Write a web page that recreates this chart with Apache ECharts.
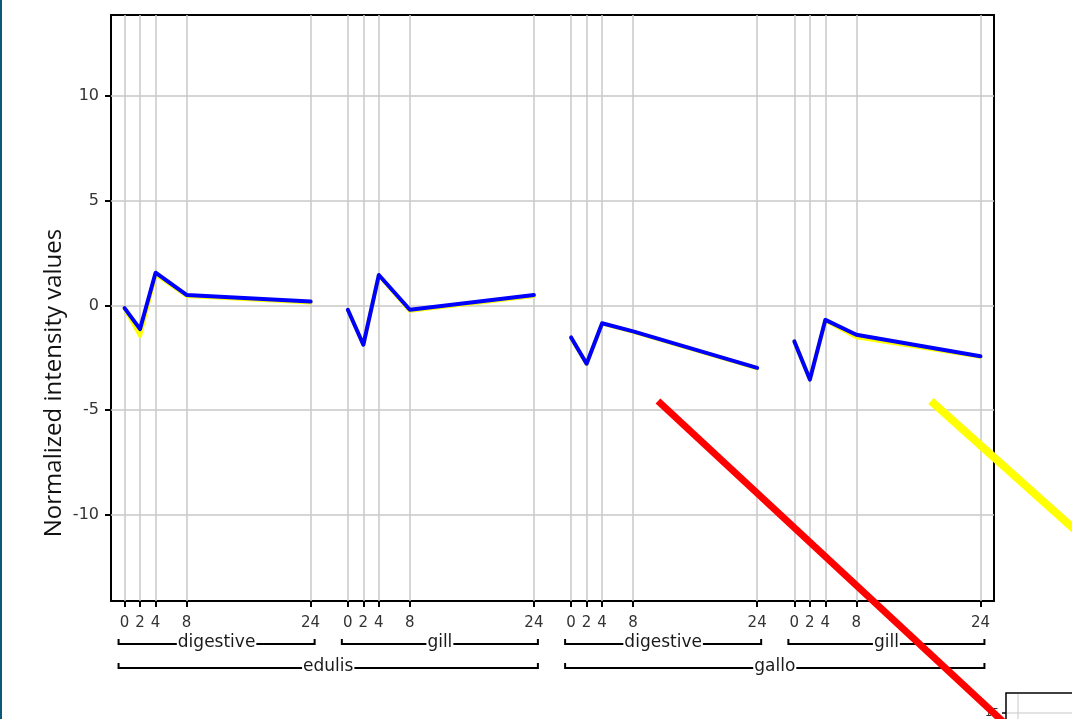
<!DOCTYPE html>
<html>
<head>
<meta charset="utf-8">
<script src="https://cdn.jsdelivr.net/npm/echarts@6/dist/echarts.min.js"></script>
<style>
  html, body { margin: 0; padding: 0; background: #fff; }
  #chart { width: 1072px; height: 719px; }
</style>
</head>
<body>
<div id="chart"></div>
<script>
// Sampling times (hours) within each tissue block
const hours = [0, 2, 4, 8, 24];
const tissueNames = ['digestive', 'gill', 'digestive', 'gill'];
const speciesNames = ['edulis', 'gallo'];

// Normalized intensity values, one array per species/tissue block
const blueEdulisDigestive = [-0.13, -1.13, 1.56, 0.50, 0.18];
const blueEdulisGill = [-0.21, -1.88, 1.45, -0.21, 0.50];
const blueGalloDigestive = [-1.53, -2.78, -0.85, -1.24, -2.98];
const blueGalloGill = [-1.72, -3.54, -0.69, -1.40, -2.43];

const yellowEdulisDigestive = [-0.15, -1.45, 1.48, 0.45, 0.14];
const yellowEdulisGill = [-0.21, -1.88, 1.43, -0.26, 0.45];
const yellowGalloDigestive = [-1.55, -2.80, -0.87, -1.26, -3.00];
const yellowGalloGill = [-1.72, -3.54, -0.72, -1.52, -2.45];

const yTickValues = [-10, -5, 0, 5, 10];

// Each block takes 24 h of axis plus a gap before the next block
const GROUP_SPAN = 28.8;

const blueBlocks = [blueEdulisDigestive, blueEdulisGill, blueGalloDigestive, blueGalloGill];
const yellowBlocks = [yellowEdulisDigestive, yellowEdulisGill, yellowGalloDigestive, yellowGalloGill];

const xTickValues = [];
const xTickText = {};
blueBlocks.forEach((_, g) => {
  hours.forEach(h => {
    const v = +(g * GROUP_SPAN + h).toFixed(4);
    xTickValues.push(v);
    xTickText[v.toFixed(4)] = String(h);
  });
});

const chart = echarts.init(document.getElementById('chart'), null, { renderer: 'canvas' });

const labelFont = '"DejaVu Sans", sans-serif';
const gridColor = '#c8c8c8';

const series = [];
// reference grid lines
series.push({
  type: 'line',
  data: [],
  silent: true,
  markLine: {
    silent: true,
    z: 1,
    animation: false,
    symbol: ['none', 'none'],
    label: { show: false },
    lineStyle: { color: gridColor, width: 1.5, type: 'solid' },
    data: xTickValues.map(v => ({ xAxis: v })).concat(yTickValues.map(v => ({ yAxis: v })))
  }
});

function blockSeries(values, g, color, z) {
  return {
    type: 'line',
    data: values.map((y, i) => [g * GROUP_SPAN + hours[i], y]),
    symbol: 'none',
    z: z,
    animation: false,
    silent: true,
    lineStyle: { color: color, width: 4, cap: 'round', join: 'round' }
  };
}
yellowBlocks.forEach((vals, g) => series.push(blockSeries(vals, g, '#ffff00', 10)));
blueBlocks.forEach((vals, g) => series.push(blockSeries(vals, g, '#0000ff', 11)));

chart.setOption({
  animation: false,
  backgroundColor: '#ffffff',
  grid: {
    left: 111, top: 15, width: 883, height: 586,
    show: true, borderColor: '#000', borderWidth: 2, backgroundColor: 'transparent'
  },
  xAxis: {
    type: 'value',
    min: -1.75,
    max: 112.15,
    axisLine: { show: true, onZero: false, lineStyle: { color: '#000', width: 2 } },
    splitLine: { show: false },
    axisTick: {
      show: true, inside: false, length: 6, customValues: xTickValues,
      lineStyle: { color: '#000', width: 2 }
    },
    axisLabel: {
      show: true, customValues: xTickValues, margin: 15,
      color: '#333', fontFamily: labelFont, fontSize: 15,
      formatter: v => xTickText[(+v).toFixed(4)] || ''
    }
  },
  yAxis: {
    type: 'value',
    min: -14.1,
    max: 13.85,
    axisLine: { show: true, onZero: false, lineStyle: { color: '#000', width: 2 } },
    splitLine: { show: false },
    axisTick: {
      show: true, inside: false, length: 6, customValues: yTickValues,
      lineStyle: { color: '#000', width: 2 }
    },
    axisLabel: {
      show: true, customValues: yTickValues, margin: 12,
      color: '#333', fontFamily: labelFont, fontSize: 16
    }
  },
  series: series
});

// Bracket annotations under the time axis (tissue row, then species row)
const px = v => chart.convertToPixel({ xAxisIndex: 0 }, v);
const graphics = [];

function bracket(x0, x1, y, text) {
  graphics.push({
    type: 'polyline',
    silent: true,
    z: 20,
    shape: { points: [[x0, y - 5], [x0, y], [x1, y], [x1, y - 5]] },
    style: { stroke: '#000', lineWidth: 2, fill: null }
  });
  graphics.push({
    type: 'text',
    silent: true,
    z: 21,
    style: {
      text: text, x: (x0 + x1) / 2, y: y - 1,
      align: 'center', verticalAlign: 'middle',
      font: '17px ' + labelFont, fill: '#1a1a1a',
      backgroundColor: '#fff', padding: [0, 1]
    }
  });
}

tissueNames.forEach((name, g) => {
  bracket(px(g * GROUP_SPAN) - 6, px(g * GROUP_SPAN + 24) + 4, 644, name);
});
speciesNames.forEach((name, s) => {
  const start = 2 * s * GROUP_SPAN;
  bracket(px(start) - 6, px(start + GROUP_SPAN + 24) + 4, 668, name);
});

// axis title
graphics.push({
  type: 'text',
  silent: true,
  x: 54, y: 383,
  rotation: Math.PI / 2,
  style: {
    text: 'Normalized intensity values',
    align: 'center', verticalAlign: 'middle',
    font: '24px "Open Sans", sans-serif', fill: '#111'
  }
});

// slide decorations: left border strip, inset chart corner, arrows
graphics.push({
  type: 'rect', silent: true, z: 30,
  shape: { x: 0, y: 0, width: 2, height: 719 },
  style: { fill: '#0b5877' }
});
graphics.push({
  type: 'rect', silent: true, z: 30,
  shape: { x: 1006, y: 693, width: 80, height: 40 },
  style: { fill: '#fff', stroke: '#000', lineWidth: 1.5 }
});
graphics.push({
  type: 'line', silent: true, z: 31,
  shape: { x1: 1018, y1: 694, x2: 1018, y2: 719 },
  style: { stroke: gridColor, lineWidth: 1 }
});
graphics.push({
  type: 'line', silent: true, z: 31,
  shape: { x1: 1007, y1: 713, x2: 1072, y2: 713 },
  style: { stroke: gridColor, lineWidth: 1 }
});
graphics.push({
  type: 'line', silent: true, z: 31,
  shape: { x1: 1002, y1: 713, x2: 1006, y2: 713 },
  style: { stroke: '#000', lineWidth: 1.5 }
});
graphics.push({
  type: 'text', silent: true, z: 31,
  style: {
    text: '15', x: 999, y: 713, align: 'right', verticalAlign: 'middle',
    font: '11px ' + labelFont, fill: '#333'
  }
});
graphics.push({
  type: 'line', silent: true, z: 40,
  shape: { x1: 658, y1: 401, x2: 1012, y2: 730 },
  style: { stroke: '#ff0000', lineWidth: 7, lineCap: 'butt' }
});
graphics.push({
  type: 'line', silent: true, z: 40,
  shape: { x1: 931, y1: 401, x2: 1082, y2: 536 },
  style: { stroke: '#ffff00', lineWidth: 8, lineCap: 'butt' }
});

chart.setOption({ graphic: graphics });
</script>
</body>
</html>
